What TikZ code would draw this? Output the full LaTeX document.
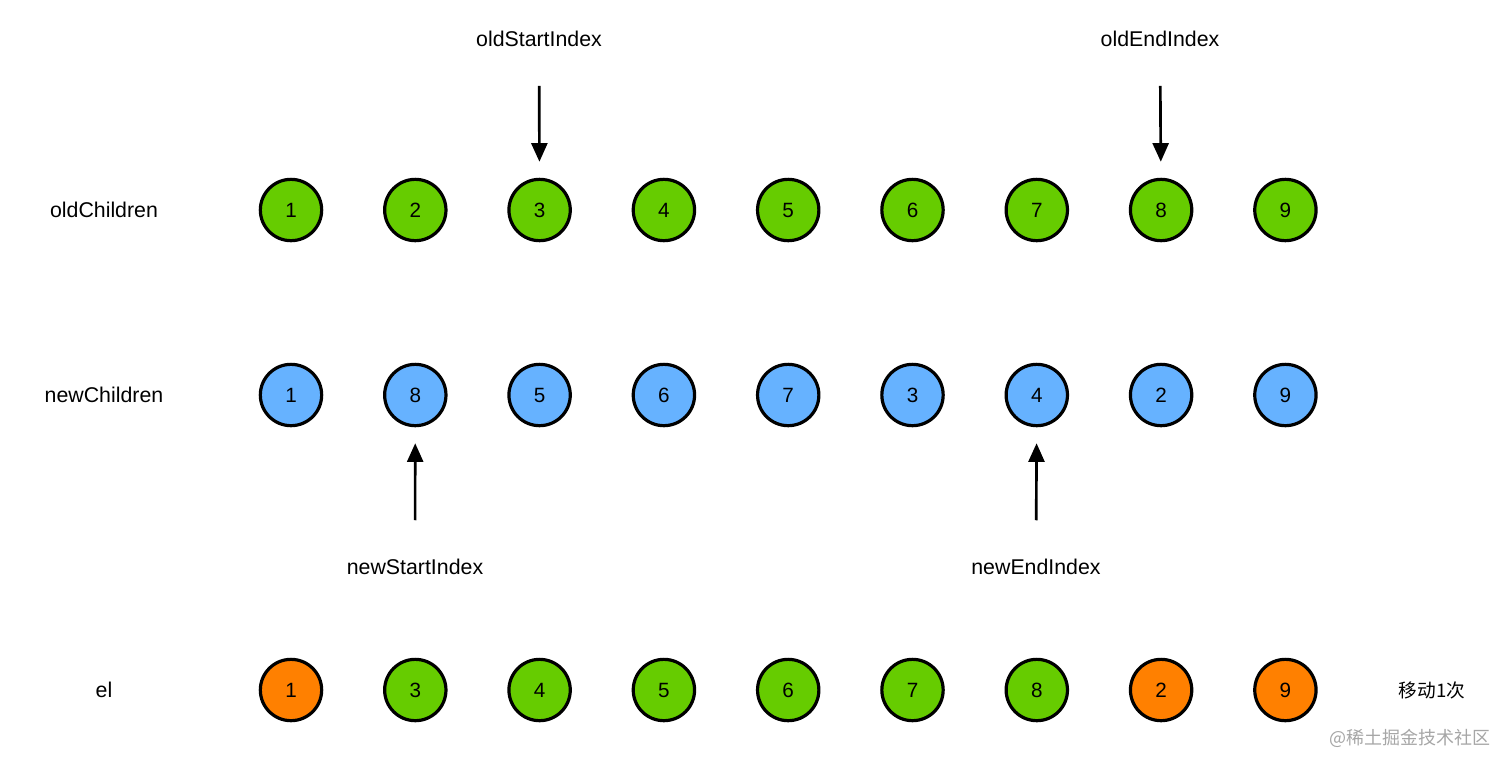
\documentclass[tikz,border=0pt]{standalone}
\usepackage{fontspec}
\setmainfont{Liberation Sans}
\newfontfamily\cjkfont{Noto Sans CJK SC}
\usetikzlibrary{arrows.meta}
\definecolor{vgreen}{HTML}{66CC00}
\definecolor{vblue}{HTML}{66B2FF}
\definecolor{vorange}{HTML}{FF8000}
\tikzset{
  vnode/.style={circle,draw=black,line width=2.4pt,minimum size=46pt,inner sep=0pt,font=\fontsize{15.5}{17}\selectfont},
  ptr/.style={line width=2pt,-{Triangle[width=12pt,length=14pt]}},
  lbl/.style={font=\fontsize{16}{18}\selectfont,inner sep=0pt}
}
\begin{document}
\begin{tikzpicture}[x=0.75pt,y=-0.75pt]
\useasboundingbox (0,0) rectangle (1512,769);
% row labels
\node[lbl] (oldrow) at (104,210) {oldChildren};
\node[lbl] (newrow) at (104,395) {newChildren};
\node[lbl] (elrow) at (104,690) {el};
% old children
\foreach \n [count=\i from 0] in {1,...,9}
  \node[vnode,fill=vgreen] (o\n) at (291+124.3*\i,210) {\n};
% new children
\foreach \n [count=\i from 0] in {1,8,5,6,7,3,4,2,9}
  \node[vnode,fill=vblue] (n\i) at (291+124.3*\i,395) {\n};
% el after move
\foreach \n/\c [count=\i from 0] in {1/vorange,3/vgreen,4/vgreen,5/vgreen,6/vgreen,7/vgreen,8/vgreen,2/vorange,9/vorange}
  \node[vnode,fill=\c] (e\i) at (291+124.3*\i,690) {\n};
% index pointers
\node[lbl] (osi) at (539,39) {oldStartIndex};
\node[lbl] (oei) at (1160,39) {oldEndIndex};
\node[lbl] (nsi) at (415,567) {newStartIndex};
\node[lbl] (nei) at (1036,567) {newEndIndex};
\draw[ptr,shorten <=29pt,shorten >=12pt] (osi) -- (o3);
\draw[ptr,shorten <=29pt,shorten >=12pt] (oei) -- (o8);
\draw[ptr,shorten <=29pt,shorten >=12pt] (nsi) -- (n1);
\draw[ptr,shorten <=29pt,shorten >=12pt] (nei) -- (n6);
\node[inner sep=0pt,font=\cjkfont\fontsize{14}{16}\selectfont] (moves) at (1432,690) {移动1次};
\node[inner sep=0pt,text=black!35,font=\cjkfont\fontsize{13.5}{16}\selectfont] (mark) at (1410,738) {@稀土掘金技术社区};
\end{tikzpicture}
\end{document}
